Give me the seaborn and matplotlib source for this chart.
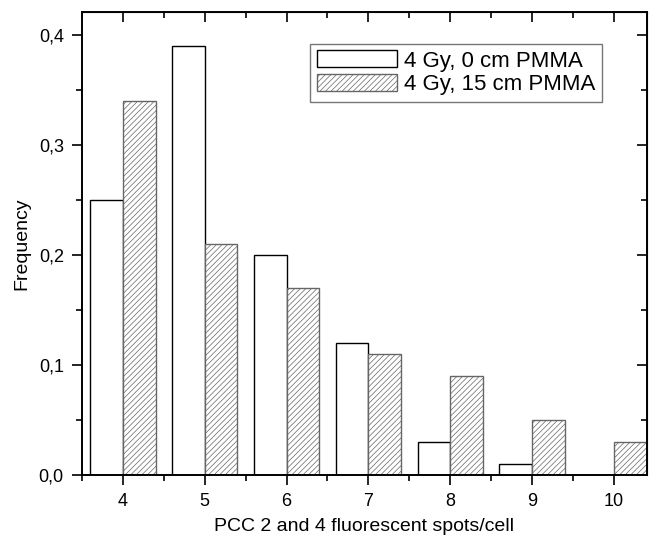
import pandas as pd
import numpy as np
import matplotlib.pyplot as plt
import seaborn as sns
from matplotlib.ticker import MultipleLocator

spots = [4, 5, 6, 7, 8, 9, 10]
freq_0cm = [0.25, 0.39, 0.20, 0.12, 0.03, 0.01, 0.0]
freq_15cm = [0.34, 0.21, 0.17, 0.11, 0.09, 0.05, 0.03]
series_names = ["4 Gy, 0 cm PMMA", "4 Gy, 15 cm PMMA"]
y_ticks = [0.0, 0.1, 0.2, 0.3, 0.4]
y_tick_labels = ["0,0", "0,1", "0,2", "0,3", "0,4"]

df = pd.DataFrame({
    "spots": spots * 2,
    "freq": freq_0cm + freq_15cm,
    "series": [series_names[0]] * len(spots) + [series_names[1]] * len(spots),
})

sns.set_style("ticks")
plt.rcParams["font.family"] = ["Liberation Sans", "DejaVu Sans"]
plt.rcParams["text.color"] = "black"
plt.rcParams["axes.labelcolor"] = "black"
plt.rcParams["xtick.color"] = "black"
plt.rcParams["ytick.color"] = "black"
plt.rcParams["axes.edgecolor"] = "black"
plt.rcParams["hatch.color"] = "#b0b0b0"
plt.rcParams["hatch.linewidth"] = 0.5

fig = plt.figure(figsize=(6.6, 5.38), dpi=100)
ax = fig.add_axes([0.124, 0.117, 0.856, 0.861])

sns.barplot(
    data=df, x="spots", y="freq", hue="series",
    native_scale=True, width=0.8, palette=["white", "white"],
    edgecolor="black", linewidth=1.0, legend=False, ax=ax
)

for bar in ax.containers[1]:
    bar.set_hatch("//////")
    bar.set_edgecolor("#666666")

ax.set_xlim(3.5, 10.4)
ax.set_ylim(0, 0.421)
ax.set_xticks(spots)
ax.set_xticklabels([str(s) for s in spots], fontsize=13)
ax.xaxis.set_minor_locator(MultipleLocator(0.5))
ax.set_yticks(y_ticks)
ax.set_yticklabels(y_tick_labels, fontsize=13)
ax.yaxis.set_minor_locator(MultipleLocator(0.05))

ax.tick_params(which="both", direction="out", top=False, right=False, width=1.2)
ax.tick_params(which="major", length=7, pad=6)
ax.tick_params(which="minor", length=4)

ax2 = ax.secondary_xaxis("top")
ax2.set_xticks(spots)
ax2.xaxis.set_minor_locator(MultipleLocator(0.5))
ax2.tick_params(which="both", direction="in", labeltop=False, width=1.2)
ax2.tick_params(which="major", length=7)
ax2.tick_params(which="minor", length=4)
ax3 = ax.secondary_yaxis("right")
ax3.set_yticks(y_ticks)
ax3.yaxis.set_minor_locator(MultipleLocator(0.05))
ax3.tick_params(which="both", direction="in", labelright=False, width=1.2)
ax3.tick_params(which="major", length=7)
ax3.tick_params(which="minor", length=4)

for spine in ax.spines.values():
    spine.set_visible(True)
    spine.set_linewidth(1.4)

ax.set_xlabel("PCC 2 and 4 fluorescent spots/cell", fontsize=14, labelpad=6)
ax.set_ylabel("Frequency", fontsize=14, labelpad=6)

leg = ax.legend(
    handles=[ax.containers[0], ax.containers[1]], labels=series_names,
    loc="upper right", bbox_to_anchor=(0.94, 0.955), fontsize=16,
    frameon=True, fancybox=False, edgecolor="#555555",
    handlelength=3.6, handleheight=0.8, handletextpad=0.3,
    borderpad=0.3, labelspacing=0.1
)
leg.get_frame().set_linewidth(1.0)

fig.savefig("out.png", dpi=100)
